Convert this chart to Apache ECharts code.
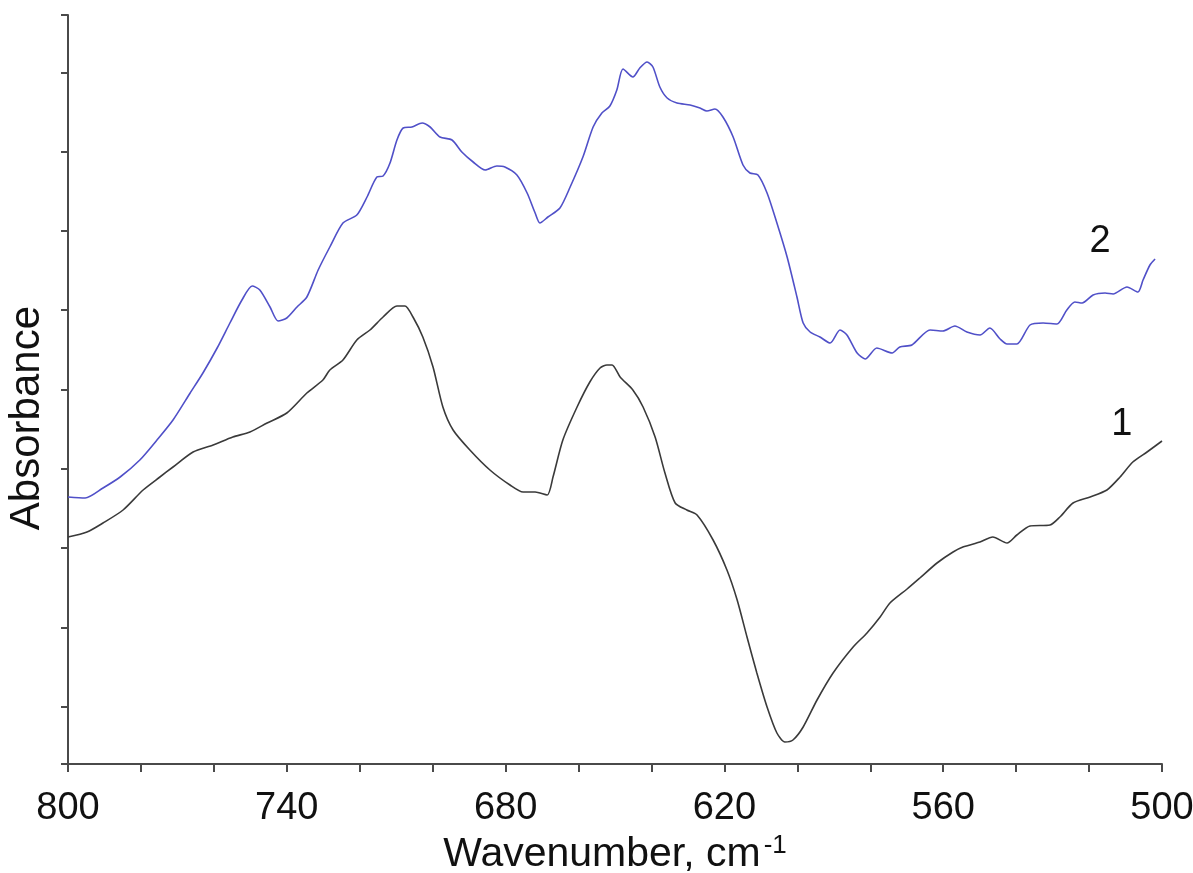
<!DOCTYPE html>
<html>
<head>
<meta charset="utf-8">
<script src="https://cdn.jsdelivr.net/npm/echarts@6/dist/echarts.min.js"></script>
<style>html,body{margin:0;padding:0;background:#fff}#c{width:1193px;height:873px}</style>
</head>
<body>
<div id="c"></div>
<script>
// Curve 1 (black): wavenumber (cm-1) and absorbance (arbitrary units)
var wn1 = [800.0,794.8,790.4,784.9,779.4,774.8,771.2,765.7,760.2,754.8,750.1,745.4,740.0,734.5,730.1,728.2,724.6,720.8,717.2,713.6,709.8,707.6,705.4,702.7,699.9,697.2,694.4,689.8,684.3,678.8,675.2,671.9,668.6,667.0,664.3,660.4,656.9,654.1,652.2,650.8,648.6,645.1,642.3,639.0,636.3,633.5,630.3,627.5,623.1,619.3,616.5,613.8,611.1,608.3,605.6,603.4,601.2,598.4,594.6,590.2,584.7,580.9,577.3,574.6,569.9,566.4,561.7,557.3,554.6,549.9,546.4,542.5,539.8,536.2,530.7,528.0,524.4,519.7,515.1,511.5,508.0,504.1,500.0];
var abs1 = [249,254,263,276,296,309,319,334,341,349,354,363,373,393,406,416,426,446,456,469,480,480,469,449,419,379,356,336,316,301,294,294,291,309,346,379,404,418,421,421,409,396,379,349,313,283,276,271,246,216,186,149,113,79,53,44,46,59,86,113,139,153,169,183,197,208,223,234,239,244,249,243,251,260,261,269,283,289,296,309,324,334,345];

// Curve 2 (blue)
var wn2 = [800.0,795.3,790.4,785.7,780.3,775.6,771.2,766.5,763.0,759.1,755.6,752.3,749.5,747.4,744.6,742.4,740.0,737.2,734.5,731.4,728.2,724.6,720.8,718.0,715.3,713.6,711.7,709.8,708.1,705.7,702.9,700.7,698.0,694.7,692.0,688.9,685.6,682.4,680.2,676.9,674.1,671.9,670.6,668.4,665.1,662.3,658.8,656.0,653.6,651.4,649.5,647.8,645.1,643.2,641.2,639.6,637.7,635.7,633.0,629.4,626.7,624.8,622.6,620.4,617.6,614.9,613.0,610.8,608.3,605.6,602.8,600.1,598.4,596.5,593.8,591.0,588.3,586.4,583.6,581.4,578.2,574.0,571.9,568.6,563.6,560.1,556.8,553.5,549.9,547.2,544.4,542.5,539.8,536.2,532.6,528.8,526.1,523.9,521.9,518.9,515.6,513.4,509.6,506.6,505.2,503.3,501.9];
var abs2 = [289,288,298,309,326,346,366,393,413,438,463,486,500,496,479,465,468,479,489,516,539,563,571,589,609,610,623,646,658,659,663,659,649,646,634,624,616,620,619,611,593,573,563,569,578,599,629,659,673,680,696,717,709,718,724,719,699,688,683,681,678,675,677,669,649,621,613,611,593,563,529,489,463,454,449,443,456,451,433,427,438,433,439,441,456,455,460,454,451,458,447,442,442,461,463,462,476,484,483,491,493,492,499,494,506,521,527];

var xTickLabels = [800, 740, 680, 620, 560, 500];
var yTicks = [22, 79.3, 158.6, 237.9, 317.2, 396.5, 475.8, 555.1, 634.4, 713.7, 771];
var curveLabels = ['1', '2'];
var curveLabelPos = [[511, 361], [517, 544]];

function pairs(xs, ys) { return xs.map(function (x, i) { return [x, ys[i]]; }); }

var FONT = '"Liberation Sans", Arial, sans-serif';
var axisColor = '#4a4a4a';

var chart = echarts.init(document.getElementById('c'), null, {renderer: 'canvas'});
chart.setOption({
  animation: false,
  backgroundColor: '#ffffff',
  grid: {left: 68, right: 31, top: 15, bottom: 109, containLabel: false, outerBoundsMode: 'none'},
  xAxis: {
    type: 'value', min: 500, max: 800, interval: 20, inverse: true,
    axisLine: {show: true, lineStyle: {color: axisColor, width: 2}},
    axisTick: {show: true, inside: false, length: 8, lineStyle: {color: axisColor, width: 2}},
    splitLine: {show: false},
    axisLabel: {
      show: true, margin: 26, fontSize: 38, color: '#111', fontFamily: FONT, hideOverlap: false,
      formatter: function (v) { return xTickLabels.indexOf(Math.round(v)) >= 0 ? String(Math.round(v)) : ''; }
    },
    name: '{a|Wavenumber, cm}{s|-1}',
    nameLocation: 'middle', nameGap: 61,
    nameTextStyle: {
      rich: {
        a: {fontSize: 41, color: '#111', fontFamily: FONT, lineHeight: 44},
        s: {fontSize: 26, color: '#111', fontFamily: FONT, verticalAlign: 'top', lineHeight: 44, padding: [0, 0, 0, 3]}
      }
    }
  },
  yAxis: {
    type: 'value', min: 22, max: 771,
    axisLine: {show: true, lineStyle: {color: axisColor, width: 2}},
    axisTick: {show: true, inside: false, length: 7, customValues: yTicks, lineStyle: {color: axisColor, width: 2}},
    axisLabel: {show: false},
    splitLine: {show: false}
  },
  graphic: [{
    type: 'text', left: 6, top: 306, rotation: Math.PI / 2,
    style: {text: 'Absorbance', fontSize: 42, fontFamily: FONT, fill: '#111'}
  }],
  series: [{
    name: '1', type: 'line', data: pairs(wn1, abs1), showSymbol: false, smooth: 0.25,
    lineStyle: {color: '#3a3a3a', width: 1.6}, clip: true,
    markPoint: {
      symbol: 'circle', symbolSize: 0,
      label: {show: true, position: 'inside', fontSize: 38, color: '#111', fontFamily: FONT, formatter: curveLabels[0]},
      data: [{coord: curveLabelPos[0]}]
    }
  }, {
    name: '2', type: 'line', data: pairs(wn2, abs2), showSymbol: false, smooth: 0.25,
    lineStyle: {color: '#5050c8', width: 1.6}, clip: true,
    markPoint: {
      symbol: 'circle', symbolSize: 0,
      label: {show: true, position: 'inside', fontSize: 38, color: '#111', fontFamily: FONT, formatter: curveLabels[1]},
      data: [{coord: curveLabelPos[1]}]
    }
  }]
});
</script>
</body>
</html>
